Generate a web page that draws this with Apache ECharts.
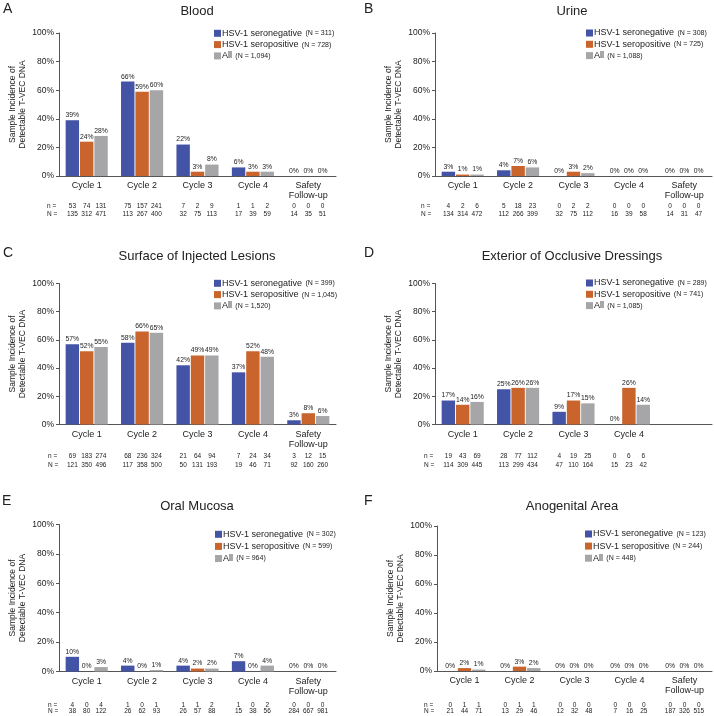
<!DOCTYPE html>
<html><head><meta charset="utf-8">
<script src="https://cdn.jsdelivr.net/npm/echarts@6/dist/echarts.min.js"></script>
<style>html,body{margin:0;padding:0;background:#fff}#c{width:714px;height:716px}</style>
</head><body><div id="c"></div>
<script>
// ---------- DATA ----------
const seriesNames = ['HSV-1 seronegative', 'HSV-1 seropositive', 'All'];
const panelLetters = ['A', 'B', 'C', 'D', 'E', 'F'];
const panelTitles = ['Blood', 'Urine', 'Surface of Injected Lesions', 'Exterior of Occlusive Dressings', 'Oral Mucosa', 'Anogenital Area'];
const cats5 = ['Cycle 1', 'Cycle 2', 'Cycle 3', 'Cycle 4', 'Safety\nFollow-up'];
const cats4 = ['Cycle 1', 'Cycle 2', 'Cycle 3', 'Cycle 4', ''];
const yTicks = [0, 20, 40, 60, 80, 100];

// A Blood
const bloodNeg = [39, 66, 22, 6, 0];
const bloodPos = [24, 59, 3, 3, 0];
const bloodAll = [28, 60, 8, 3, 0];
const bloodSmallN = [[53, 74, 131], [75, 157, 241], [7, 2, 9], [1, 1, 2], [0, 0, 0]];
const bloodBigN = [[135, 312, 471], [113, 267, 400], [32, 75, 113], [17, 39, 59], [14, 35, 51]];
const bloodLegendN = ['311', '728', '1,094'];

// B Urine
const urineNeg = [3, 4, 0, 0, 0];
const urinePos = [1, 7, 3, 0, 0];
const urineAll = [1, 6, 2, 0, 0];
const urineSmallN = [[4, 2, 6], [5, 18, 23], [0, 2, 2], [0, 0, 0], [0, 0, 0]];
const urineBigN = [[134, 314, 472], [112, 266, 399], [32, 75, 112], [16, 39, 58], [14, 31, 47]];
const urineLegendN = ['308', '725', '1,088'];

// C Surface of injected lesions
const surfNeg = [57, 58, 42, 37, 3];
const surfPos = [52, 66, 49, 52, 8];
const surfAll = [55, 65, 49, 48, 6];
const surfSmallN = [[69, 183, 274], [68, 236, 324], [21, 64, 94], [7, 24, 34], [3, 12, 15]];
const surfBigN = [[121, 350, 496], [117, 358, 500], [50, 131, 193], [19, 46, 71], [92, 160, 260]];
const surfLegendN = ['399', '1,045', '1,520'];

// D Exterior of occlusive dressings
const dressNeg = [17, 25, 9, 0];
const dressPos = [14, 26, 17, 26];
const dressAll = [16, 26, 15, 14];
const dressSmallN = [[19, 43, 69], [28, 77, 112], [4, 19, 25], [0, 6, 6]];
const dressBigN = [[114, 309, 445], [113, 299, 434], [47, 110, 164], [15, 23, 42]];
const dressLegendN = ['289', '741', '1,085'];

// E Oral mucosa
const oralNeg = [10, 4, 4, 7, 0];
const oralPos = [0, 0, 2, 0, 0];
const oralAll = [3, 1, 2, 4, 0];
const oralSmallN = [[4, 0, 4], [1, 0, 1], [1, 1, 2], [1, 0, 2], [0, 0, 0]];
const oralBigN = [[38, 80, 122], [26, 62, 93], [26, 57, 88], [15, 38, 56], [284, 667, 981]];
const oralLegendN = ['302', '599', '964'];

// F Anogenital area
const anoNeg = [0, 0, 0, 0, 0];
const anoPos = [2, 3, 0, 0, 0];
const anoAll = [1, 2, 0, 0, 0];
const anoSmallN = [[0, 1, 1], [0, 1, 1], [0, 0, 0], [0, 0, 0], [0, 0, 0]];
const anoBigN = [[21, 44, 71], [13, 29, 46], [12, 32, 48], [7, 16, 25], [187, 326, 515]];
const anoLegendN = ['123', '244', '448'];

const panels = [
  { cats: cats5, vals: [bloodNeg, bloodPos, bloodAll], n: bloodSmallN, N: bloodBigN, legN: bloodLegendN },
  { cats: cats5, vals: [urineNeg, urinePos, urineAll], n: urineSmallN, N: urineBigN, legN: urineLegendN },
  { cats: cats5, vals: [surfNeg, surfPos, surfAll], n: surfSmallN, N: surfBigN, legN: surfLegendN },
  { cats: cats4, vals: [dressNeg, dressPos, dressAll], n: dressSmallN, N: dressBigN, legN: dressLegendN },
  { cats: cats5, vals: [oralNeg, oralPos, oralAll], n: oralSmallN, N: oralBigN, legN: oralLegendN },
  { cats: cats5, vals: [anoNeg, anoPos, anoAll], n: anoSmallN, N: anoBigN, legN: anoLegendN }
];

// ---------- LAYOUT / STYLE ----------
const FONT = '"Liberation Sans", Arial, Helvetica, sans-serif';
const TXT = '#222';
const AX = '#555';
const colors = ['#4353A5', '#C8642C', '#A6A6A9'];
const layout = [
  { grid: { left: 59, top: 33, width: 277, height: 143 }, leg: { left: 214, top: 27.3, gap: -0.7 }, title: [197, 11], letter: [3, 9], dn: 29.8, L: 8.5, nx: 47 },
  { grid: { left: 435, top: 33, width: 277, height: 143 }, leg: { left: 586, top: 27, gap: -0.7 }, title: [572, 11], letter: [364, 9], dn: 29.8, L: 8.5, nx: 421 },
  { grid: { left: 59, top: 283.5, width: 277, height: 141 }, leg: { left: 214, top: 277.3, gap: -0.7 }, title: [197, 256], letter: [3, 253], dn: 32.2, L: 8.6, nx: 48 },
  { grid: { left: 435, top: 283.5, width: 277, height: 141 }, leg: { left: 586, top: 277, gap: -0.7 }, title: [572, 256], letter: [364, 253], dn: 32.2, L: 8.6, nx: 424 },
  { grid: { left: 59, top: 524.5, width: 277, height: 147 }, leg: { left: 215, top: 528.3, gap: 0.1 }, title: [197, 506], letter: [2, 501], dn: 34, L: 5.6, nx: 48 },
  { grid: { left: 437, top: 526, width: 275, height: 145 }, leg: { left: 585, top: 528, gap: 0.1 }, title: [572, 506], letter: [364, 501], dn: 34.5, L: 5.5, nx: 424 }
];

const grids = [], xAxes = [], yAxes = [], series = [], legends = [], graphics = [];

panels.forEach((p, i) => {
  const lo = layout[i];
  grids.push(Object.assign({}, lo.grid));
  const spacer = Math.max(0.5, lo.dn - 25 - lo.L / 2);
  xAxes.push({
    type: 'category', gridIndex: i, data: p.cats,
    axisLine: { show: true, lineStyle: { color: AX, width: 1 } },
    axisTick: { show: false },
    axisLabel: {
      interval: 0, margin: 5, hideOverlap: false,
      formatter: function (value, idx) {
        const lines = value ? value.split('\n') : [];
        let s = '{t|' + (lines[0] || ' ') + '}\n{t|' + (lines[1] || ' ') + '}\n{s| }';
        if (p.n[idx]) {
          s += '\n' + p.n[idx].map(v => '{c|' + v + '}').join('') +
               '\n' + p.N[idx].map(v => '{d|' + v + '}').join('');
        }
        return s;
      },
      rich: {
        t: { fontSize: 9, lineHeight: 10, color: TXT, fontFamily: FONT, align: 'center' },
        s: { fontSize: 1, lineHeight: spacer },
        c: { fontSize: 6.5, lineHeight: lo.L, width: 14.3, align: 'center', color: TXT, fontFamily: FONT },
        d: { fontSize: 6.5, lineHeight: lo.L, width: 14.3, align: 'center', color: TXT, fontFamily: FONT }
      }
    }
  });
  yAxes.push({
    type: 'value', gridIndex: i, min: yTicks[0], max: yTicks[yTicks.length - 1], interval: 20,
    name: 'Sample Incidence of\nDetectable T-VEC DNA', nameLocation: 'middle', nameGap: 31,
    nameTextStyle: { fontSize: 8.5, lineHeight: 10.5, color: TXT, fontFamily: FONT },
    axisLine: { show: true, lineStyle: { color: AX, width: 1 } },
    axisTick: { show: true, length: 3, lineStyle: { color: AX } },
    splitLine: { show: false },
    axisLabel: { formatter: '{value}%', fontSize: 8.5, color: TXT, fontFamily: FONT, margin: 5 }
  });
  p.vals.forEach((arr, j) => {
    series.push({
      type: 'bar', name: seriesNames[j], xAxisIndex: i, yAxisIndex: i,
      data: arr, barCategoryGap: '24%', barGap: '7%',
      itemStyle: { color: colors[j] },
      label: { show: true, position: 'top', distance: 1.5, formatter: '{c}%', fontSize: 6.8, color: TXT, fontFamily: FONT },
      emphasis: { disabled: true }, animation: false
    });
  });
  legends.push({
    orient: 'vertical', left: lo.leg.left, top: lo.leg.top, padding: 0,
    itemGap: lo.leg.gap, itemWidth: 7, itemHeight: 7, icon: 'rect',
    data: seriesNames, selectedMode: false,
    formatter: name => '{a|' + name + '} {b|(N = ' + p.legN[seriesNames.indexOf(name)] + ')}',
    textStyle: {
      padding: [0, 0, 0, -4],
      rich: {
        a: { fontSize: 9, lineHeight: 10, color: TXT, fontFamily: FONT },
        b: { fontSize: 7, lineHeight: 10, color: TXT, fontFamily: FONT }
      }
    }
  });
  graphics.push({ type: 'text', x: lo.title[0], y: lo.title[1], style: { text: panelTitles[i], fontSize: 13, fontFamily: FONT, fill: TXT, align: 'center', verticalAlign: 'middle' } });
  graphics.push({ type: 'text', x: lo.letter[0], y: lo.letter[1], style: { text: panelLetters[i], fontSize: 14, fontFamily: FONT, fill: TXT, align: 'left', verticalAlign: 'middle' } });
  const axisY = lo.grid.top + lo.grid.height;
  graphics.push({ type: 'text', x: lo.nx, y: axisY + lo.dn, style: { text: 'n =', fontSize: 6.5, fontFamily: FONT, fill: TXT, align: 'left', verticalAlign: 'middle' } });
  graphics.push({ type: 'text', x: lo.nx, y: axisY + lo.dn + lo.L, style: { text: 'N =', fontSize: 6.5, fontFamily: FONT, fill: TXT, align: 'left', verticalAlign: 'middle' } });
});

const chart = echarts.init(document.getElementById('c'), null, { renderer: 'canvas' });
chart.setOption({
  animation: false,
  backgroundColor: '#fff',
  textStyle: { fontFamily: FONT },
  grid: grids, xAxis: xAxes, yAxis: yAxes, series: series, legend: legends, graphic: graphics
});
</script>
</body></html>
